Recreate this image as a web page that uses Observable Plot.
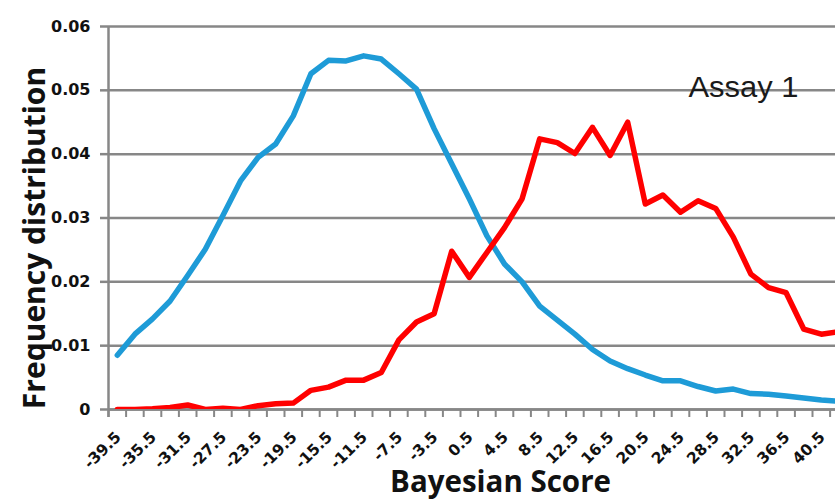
<!DOCTYPE html>
<html>
<head>
<meta charset="utf-8">
<script src="https://cdn.jsdelivr.net/npm/d3@7"></script>
<script src="https://cdn.jsdelivr.net/npm/@observablehq/plot@0.6"></script>
<style>
  html, body { margin: 0; padding: 0; background: #ffffff; overflow: hidden; }
  #chart svg { display: block; }
</style>
</head>
<body>
<div id="chart"></div>
<script>
// Bayesian score categories (bin centres)
const scores = [-39.5, -37.5, -35.5, -33.5, -31.5, -29.5, -27.5, -25.5, -23.5, -21.5,
  -19.5, -17.5, -15.5, -13.5, -11.5, -9.5, -7.5, -5.5, -3.5, -1.5,
  0.5, 2.5, 4.5, 6.5, 8.5, 10.5, 12.5, 14.5, 16.5, 18.5,
  20.5, 22.5, 24.5, 26.5, 28.5, 30.5, 32.5, 34.5, 36.5, 38.5,
  40.5, 42.5];

// Blue series
const blueSeries = [0.0085, 0.0118, 0.0142, 0.0170, 0.0210, 0.0251, 0.0304, 0.0358, 0.0395, 0.0416,
  0.0460, 0.0526, 0.0547, 0.0546, 0.0554, 0.0549, 0.0526, 0.0502, 0.0440, 0.0385,
  0.0330, 0.0272, 0.0228, 0.0200, 0.0162, 0.0140, 0.0118, 0.0094, 0.0076, 0.0064,
  0.0054, 0.0045, 0.0045, 0.0036, 0.0029, 0.0032, 0.0025, 0.0024, 0.0021, 0.0018,
  0.0015, 0.0013];

// Red series
const redSeries = [0.0000, 0.0000, 0.0001, 0.0003, 0.0007, 0.0000, 0.0002, 0.0000, 0.0006, 0.0009,
  0.0010, 0.0030, 0.0035, 0.0046, 0.0046, 0.0058, 0.0109, 0.0137, 0.0150, 0.0248,
  0.0207, 0.0246, 0.0285, 0.0330, 0.0424, 0.0418, 0.0401, 0.0442, 0.0398, 0.0450,
  0.0322, 0.0336, 0.0309, 0.0327, 0.0315, 0.0270, 0.0212, 0.0191, 0.0183, 0.0126,
  0.0118, 0.0122];

// Tick labels
const xLabels = [-39.5, -35.5, -31.5, -27.5, -23.5, -19.5, -15.5, -11.5, -7.5, -3.5,
  0.5, 4.5, 8.5, 12.5, 16.5, 20.5, 24.5, 28.5, 32.5, 36.5, 40.5];
const yTicks = [0, 0.01, 0.02, 0.03, 0.04, 0.05, 0.06];

const annotation = [{x: 25.4, y: 0.0504, text: "Assay 1"}];

const blueRows = scores.map((s, i) => ({score: s, value: blueSeries[i]}));
const redRows = scores.map((s, i) => ({score: s, value: redSeries[i]}));
const boundaries = scores.map(s => s - 1);

const gridColor = "#878787";
const catWidth = 17.6; // px per category on the axis
const chart = Plot.plot({
  width: 835,
  height: 499,
  marginLeft: 108,
  marginRight: 0,
  marginTop: 26,
  marginBottom: 90,
  style: {fontFamily: "DejaVu Sans", background: "#ffffff"},
  x: {domain: [-40.5, -40.5 + (835 - 108) / (catWidth / 2)], axis: null},
  y: {domain: [0, 0.06], axis: null},
  marks: [
    Plot.gridY(yTicks, {stroke: gridColor, strokeOpacity: 1, strokeWidth: 2.5}),
    Plot.axisY(yTicks, {
      tickSize: 8, tickPadding: 10, stroke: gridColor, strokeWidth: 2.5, fill: "#111",
      tickFormat: d => d === 0 ? "0" : d.toFixed(2),
      fontSize: 16, fontWeight: "bold", fontFamily: "DejaVu Sans", label: null
    }),
    Plot.axisX(boundaries, {
      tickSize: 8, stroke: gridColor, strokeWidth: 2, tickFormat: () => "", label: null
    }),
    Plot.axisX(xLabels, {
      tickSize: 0, tickPadding: 25, tickRotate: -45, dx: 1, fill: "#111",
      tickFormat: d => d.toFixed(1),
      fontSize: 15.5, fontWeight: "bold", fontFamily: "DejaVu Sans", label: null
    }),
    Plot.ruleY([0], {stroke: gridColor, strokeWidth: 2.5}),
    Plot.ruleX([-40.5], {stroke: gridColor, strokeWidth: 2.5, insetBottom: -8}),
    Plot.line(blueRows, {x: "score", y: "value", stroke: "#1e9bd7", strokeWidth: 5.5, clip: true}),
    Plot.line(redRows, {x: "score", y: "value", stroke: "#ff0000", strokeWidth: 5.5, clip: true}),
    Plot.text(annotation, {
      x: "x", y: "y", text: "text", textAnchor: "start", lineAnchor: "middle",
      fontSize: 29, fontFamily: "Liberation Sans", fill: "#1a1a1a"
    }),
    Plot.text(["Bayesian Score"], {
      frameAnchor: "bottom", textAnchor: "middle", dx: 28.5, dy: 82, lineAnchor: "bottom",
      fontSize: 29.5, fontWeight: "bold", fontFamily: "Open Sans", fill: "#111"
    }),
    Plot.text(["Frequency distribution"], {
      frameAnchor: "left", textAnchor: "middle", rotate: -90, dx: -64, dy: 20, lineAnchor: "bottom",
      fontSize: 30, fontWeight: "bold", fontFamily: "Open Sans", fill: "#111"
    })
  ]
});
// stretch the annotation slightly to match the reference's glyph width
d3.select(chart).selectAll("text").filter(function() { return this.textContent === "Assay 1"; })
  .attr("textLength", 110).attr("lengthAdjust", "spacingAndGlyphs");
document.getElementById("chart").appendChild(chart);
</script>
</body>
</html>
